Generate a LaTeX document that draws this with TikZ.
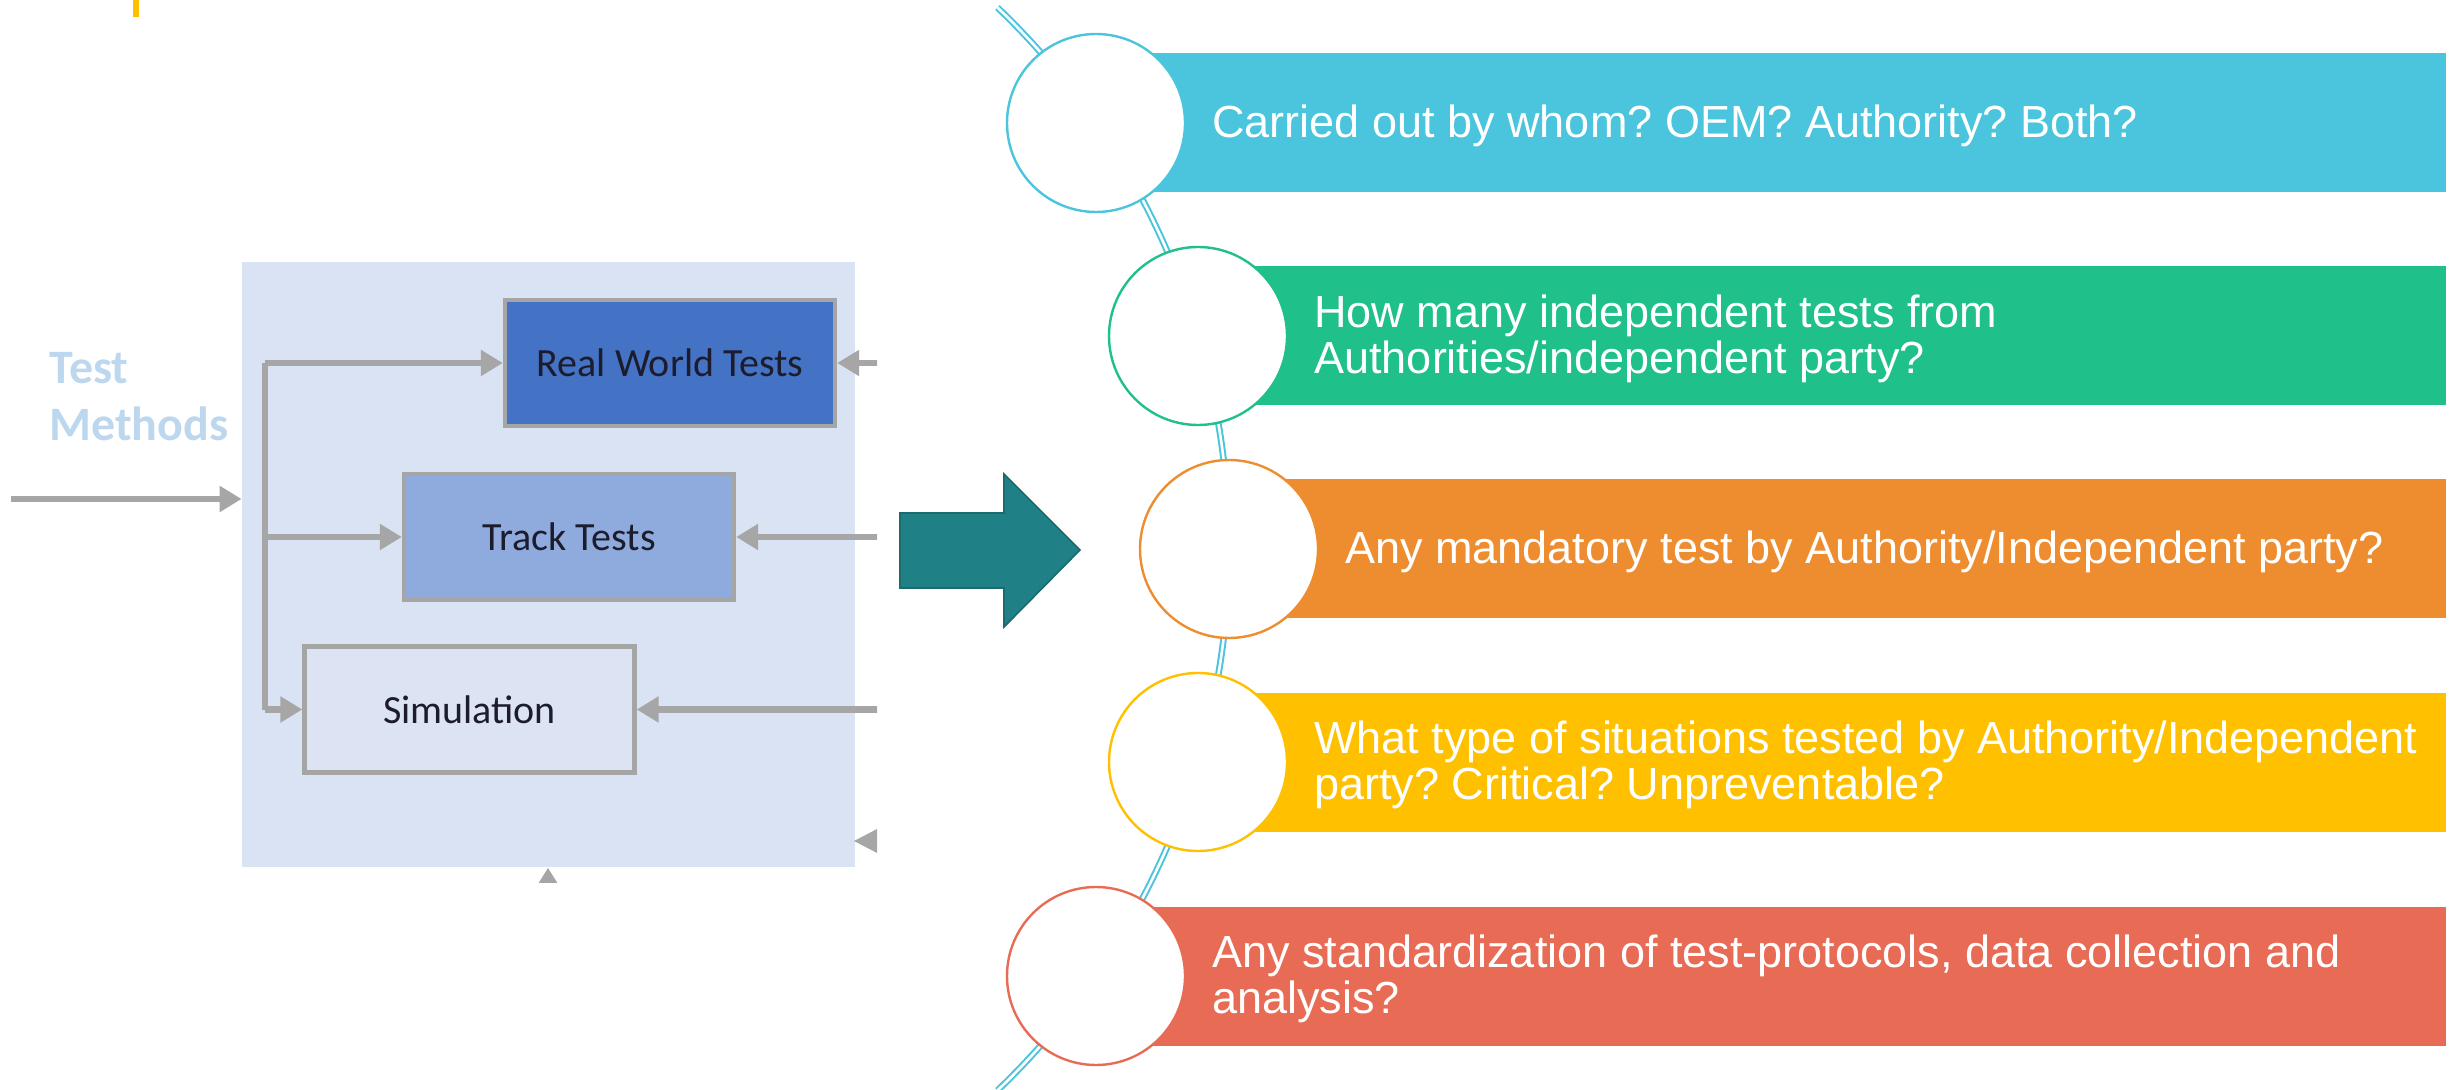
\documentclass[tikz,border=0pt]{standalone}
\usepackage{fontspec}
\setmainfont{Liberation Sans}
\newfontfamily\calib{Carlito}
\usetikzlibrary{arrows.meta}
\definecolor{panelbg}{HTML}{DAE3F3}
\definecolor{rwfill}{HTML}{4472C4}
\definecolor{ttfill}{HTML}{8FAADC}
\definecolor{simfill}{HTML}{DCE4F3}
\definecolor{boxgray}{HTML}{A5A5A5}
\definecolor{arrgray}{HTML}{A6A6A6}
\definecolor{txtdark}{HTML}{1C1C2C}
\definecolor{tmcolor}{HTML}{BDD7EE}
\definecolor{tealf}{HTML}{1F8085}
\definecolor{teald}{HTML}{1A6A6E}
\definecolor{cA}{HTML}{4BC4DD}
\definecolor{cB}{HTML}{20C08A}
\definecolor{cC}{HTML}{EE8D30}
\definecolor{cD}{HTML}{FFC000}
\definecolor{cE}{HTML}{E86C55}
\frenchspacing
\tikzset{
  tbox/.style={draw=boxgray, line width=2.2pt, minimum width=165pt, minimum height=63pt,
    inner sep=0pt, text=txtdark, font=\calib\fontsize{20}{24}\selectfont},
  gline/.style={draw=arrgray, line width=3.2pt},
  garrow/.style={gline, -{Triangle[length=11pt,width=12.5pt]}},
  circ/.style={circle, fill=white, line width=1.2pt, minimum size=89pt, inner sep=0pt},
  bar/.style={anchor=west, minimum width=675pt, minimum height=69.5pt, inner sep=0pt},
  qtext/.style={anchor=west, inner sep=0pt, text=white, align=left,
    font=\fontsize{22.5}{23}\selectfont},
}
\begin{document}
\begin{tikzpicture}[x=0.5pt,y=-0.5pt]
\useasboundingbox (0,0) rectangle (2463,1090);
% small yellow mark
\fill[cD] (133,0) rectangle (139,17);
% left (cropped) figure
\begin{scope}
\clip (0,0) rectangle (877,882);
\node[fill=panelbg, minimum width=306.5pt, minimum height=302.5pt, inner sep=0pt] (panel) at (548.5,564.5) {};
\node[tbox, fill=rwfill] (rw) at (670,363) {Real World Tests};
\node[tbox, fill=ttfill] (tt) at (569,537) {Track Tests};
\node[tbox, fill=simfill] (sim) at (469.5,709.5) {Simulation};
\node[anchor=west, inner sep=0pt, align=left, text=tmcolor,
  font=\calib\bfseries\fontsize{24}{28.5}\selectfont] (tm) at (49,397) {Test\\Methods};
\coordinate (in) at (11,499);
\coordinate (bus) at (265,0);
\coordinate (redge) at (900,0);
\draw[garrow] (in) -- (panel.west |- in);
\draw[gline] (rw.west -| bus) -- (sim.west -| bus);
\draw[garrow] (rw.west -| bus) -- (rw.west);
\draw[garrow] (tt.west -| bus) -- (tt.west);
\draw[garrow] (sim.west -| bus) -- (sim.west);
\draw[garrow] (rw.east -| redge) -- (rw.east);
\draw[garrow] (tt.east -| redge) -- (tt.east);
\draw[garrow] (sim.east -| redge) -- (sim.east);
\fill[arrgray] (854,841) -- (879,828) -- (879,854) -- cycle;
\fill[arrgray] (548,868) -- (538,884) -- (558,884) -- cycle;
\end{scope}
% teal block arrow
\draw[fill=tealf, draw=teald, line width=0.8pt, line join=miter]
  (900,513) -- (1004,513) -- (1004,474) -- (1080,550) -- (1004,627) -- (1004,588) -- (900,588) -- cycle;
% arc
\coordinate (ac) at (480,549);
\draw[cA, line width=1pt, double=white, double distance=1.3pt]
  ([shift={(-46.3:749)}]ac) arc[start angle=-46.3, end angle=46.3, radius=749];
% circle positions
\coordinate (p1) at (1096,123);
\coordinate (p2) at (1198,336);
\coordinate (p3) at (1229,549);
\coordinate (p4) at (1198,762);
\coordinate (p5) at (1096,976);
% bars
\node[bar, fill=cA] (b1) at (p1) {};
\node[bar, fill=cB, minimum width=624pt] (b2) at (p2) {};
\node[bar, fill=cC, minimum width=608.5pt] (b3) at (p3) {};
\node[bar, fill=cD, minimum width=624pt] (b4) at (p4) {};
\node[bar, fill=cE] (b5) at (p5) {};
% circles
\node[circ, draw=cA] (k1) at (p1) {};
\node[circ, draw=cB] (k2) at (p2) {};
\node[circ, draw=cC] (k3) at (p3) {};
\node[circ, draw=cD] (k4) at (p4) {};
\node[circ, draw=cE] (k5) at (p5) {};
% texts
\node[qtext] (t1) at ([xshift=58pt,yshift=-1.5pt]k1.center) {Carried out by whom? OEM? Authority? Both?};
\node[qtext] (t2) at ([xshift=58pt,yshift=-1.5pt]k2.center) {How many independent tests from\\Authorities/independent party?};
\node[qtext] (t3) at ([xshift=58pt,yshift=-1.5pt]k3.center) {Any mandatory test by Authority/Independent party?};
\node[qtext] (t4) at ([xshift=58pt,yshift=-1.5pt]k4.center) {What type of situations tested by Authority/Independent\\party? Critical? Unpreventable?};
\node[qtext] (t5) at ([xshift=58pt,yshift=-1.5pt]k5.center) {Any standardization of test-protocols, data collection and\\analysis?};
\end{tikzpicture}
\end{document}
